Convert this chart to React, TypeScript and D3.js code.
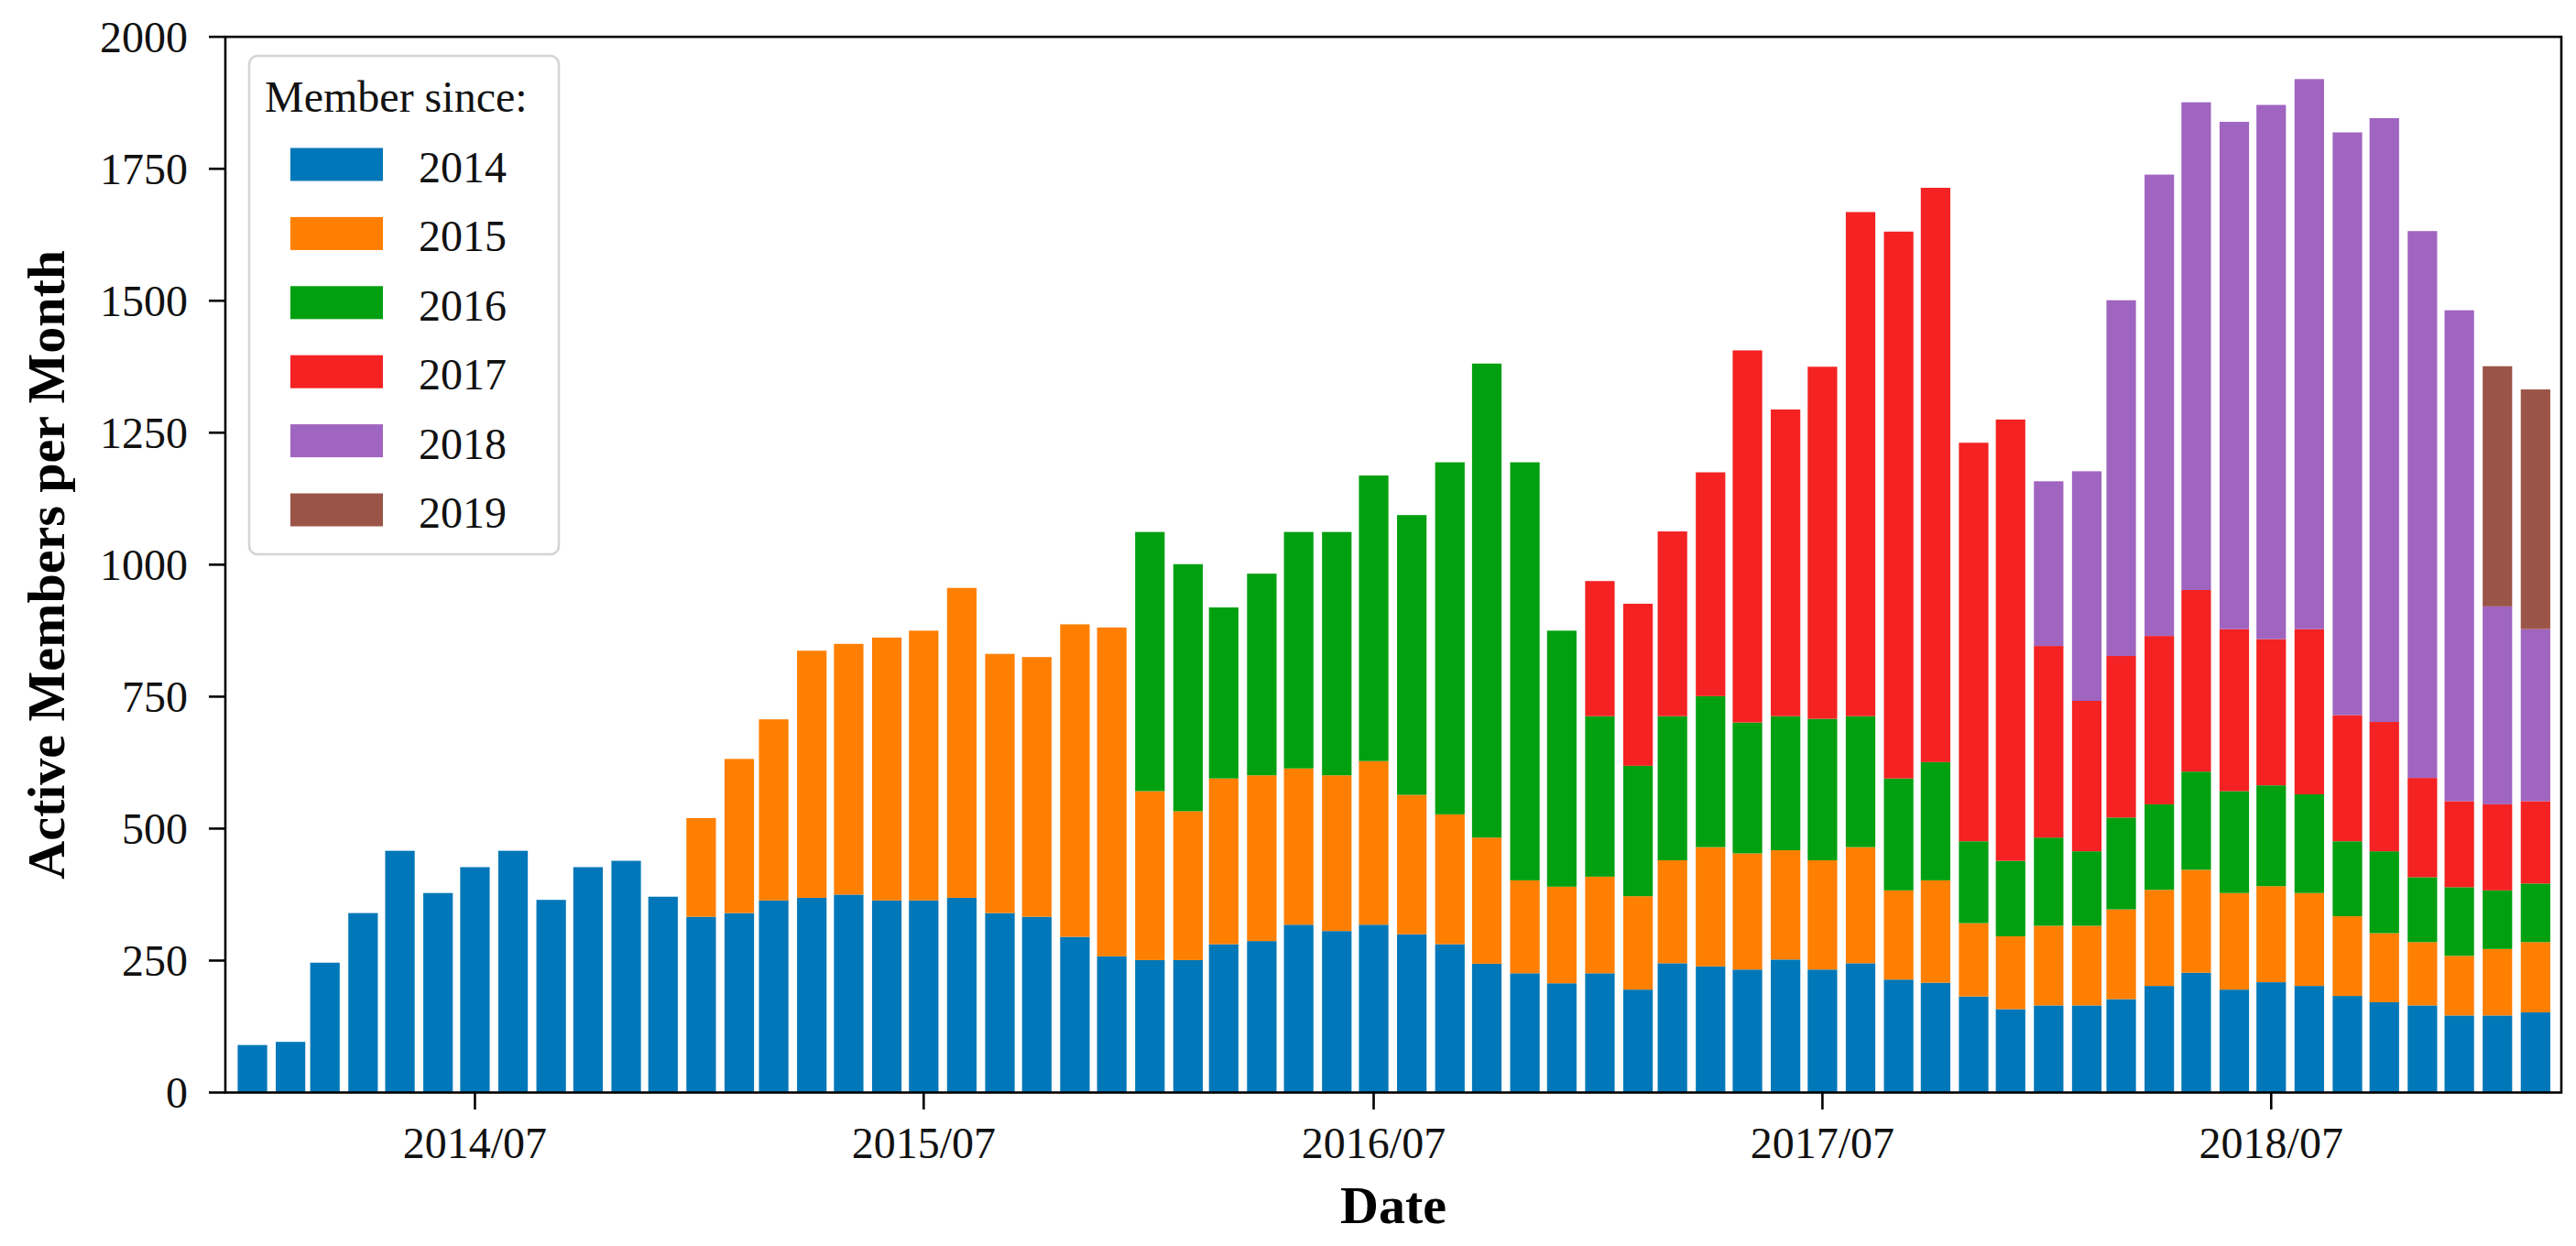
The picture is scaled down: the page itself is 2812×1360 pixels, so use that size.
import React from "react";
import * as d3 from "d3";

// Months shown (one stacked bar per month), 2014/01 .. 2019/02
const months: Date[] = d3.timeMonth.range(new Date(2014, 0, 1), new Date(2019, 2, 1));

// Cohorts ("Member since") and their colours
const cohorts = ["2014", "2015", "2016", "2017", "2018", "2019"];
const cohortColors = ["#0077b8", "#ff7f00", "#00a010", "#f42222", "#a065c0", "#9b5548"];

// Active members per month for each cohort, starting in January of the cohort year
const members2014 = [
  90, 96, 246, 340, 458, 378, 427, 458, 365, 427, 439, 371,
  333, 340, 364, 369, 375, 364, 364, 369, 340, 333, 295, 258,
  251, 251, 281, 287, 318, 306, 318, 300, 281, 244, 226, 207,
  226, 195, 245, 239, 233, 252, 233, 245, 214, 208, 182, 158,
  165, 165, 177, 202, 227, 195, 209, 202, 183, 171, 165, 146,
  146, 152,
];
const members2015 = [
  187, 292, 343, 468, 475, 498, 511, 587, 491, 492, 592, 623,
  320, 282, 314, 314, 296, 295, 310, 264, 246, 239, 176, 183,
  183, 177, 195, 226, 220, 207, 207, 220, 169, 194, 139, 138,
  151, 151, 170, 182, 195, 183, 182, 176, 151, 131, 120, 113,
  126, 133,
];
const members2016 = [
  491, 468, 324, 382, 448, 461, 541, 530, 667, 898, 792, 485,
  304, 247, 273, 286, 248, 254, 268, 248, 212, 224, 155, 143,
  167, 141, 174, 162, 186, 193, 191, 187, 142, 155, 123, 130,
  111, 111,
];
const members2017 = [
  256, 307, 350, 424, 705, 581, 667, 955, 1036, 1088, 755, 836,
  363, 285, 306, 319, 344, 307, 277, 313, 239, 245, 188, 163,
  163, 156,
];
const members2018 = [312, 435, 674, 874, 924, 961, 1012, 1042, 1104, 1144, 1036, 930, 375, 326];
const members2019 = [455, 454];

const cohortSeries = [members2014, members2015, members2016, members2017, members2018, members2019];

// Axis ticks
const yTicks = [0, 250, 500, 750, 1000, 1250, 1500, 1750, 2000];
const xTicks = [2014, 2015, 2016, 2017, 2018].map((y) => new Date(y, 6, 1));
const xTickFormat = d3.timeFormat("%Y/%m");

const W = 2812;
const H = 1360;
const FONT = "'Liberation Serif', 'Times New Roman', Times, serif";

export default function App() {
  const left = 246;
  const right = 2796;
  const top = 40.2;
  const bottom = 1192.5;

  const x = d3
    .scaleTime()
    .domain([d3.timeDay.offset(new Date(2014, 0, 1), -22), d3.timeDay.offset(new Date(2019, 1, 1), 21)])
    .range([left, right]);
  const y = d3.scaleLinear().domain([0, 2000]).range([bottom, top]);

  // Build table: one row per month with value per cohort
  const table = months.map((m, i) => {
    const row: Record<string, number> = {};
    cohorts.forEach((c, ci) => {
      const startIdx = (+c - 2014) * 12;
      const v = cohortSeries[ci][i - startIdx];
      row[c] = i >= startIdx && v !== undefined ? v : 0;
    });
    return row;
  });
  const stacked = d3.stack<Record<string, number>>().keys(cohorts)(table);

  const halfWidth = (d: Date) => [x(d3.timeDay.offset(d, -12)), x(d3.timeDay.offset(d, 12))];

  return (
    <svg
      width={W}
      height={H}
      style={{ position: "absolute", left: 0, top: 0, background: "#fff" }}
      fontFamily={FONT}
    >
      <rect x={0} y={0} width={W} height={H} fill="#fff" />
      {/* bars */}
      {stacked.map((layer, li) => (
        <g key={cohorts[li]} fill={cohortColors[li]}>
          {layer.map((seg, i) => {
            if (seg[1] - seg[0] <= 0) return null;
            const [x0, x1] = halfWidth(months[i]);
            return (
              <rect
                key={i}
                x={x0}
                width={x1 - x0}
                y={y(seg[1])}
                height={y(seg[0]) - y(seg[1])}
              />
            );
          })}
        </g>
      ))}

      {/* spines */}
      <rect x={left} y={top} width={right - left} height={bottom - top} fill="none" stroke="#000" strokeWidth={2.6} />

      {/* y ticks */}
      {yTicks.map((t) => (
        <g key={t}>
          <line x1={left - 18} x2={left} y1={y(t)} y2={y(t)} stroke="#000" strokeWidth={2.6} />
          <text x={205} y={y(t) + 16.5} textAnchor="end" fontSize={48} fill="#111">
            {t}
          </text>
        </g>
      ))}

      {/* x ticks */}
      {xTicks.map((t) => (
        <g key={+t}>
          <line x1={x(t)} x2={x(t)} y1={bottom} y2={bottom + 18.5} stroke="#000" strokeWidth={2.6} />
          <text x={x(t)} y={1264} textAnchor="middle" fontSize={48} fill="#111">
            {xTickFormat(t)}
          </text>
        </g>
      ))}

      {/* axis titles */}
      <text x={(left + right) / 2} y={1335} textAnchor="middle" fontSize={58} fontWeight="bold" fill="#000">
        Date
      </text>
      <text
        transform={`translate(70, ${(top + bottom) / 2}) rotate(-90)`}
        textAnchor="middle"
        fontSize={58}
        fontWeight="bold"
        fill="#000"
      >
        Active Members per Month
      </text>

      {/* legend */}
      <g>
        <rect x={272} y={61} width={338} height={544} rx={9} fill="#fff" fillOpacity={0.85} stroke="#d4d4d4" strokeWidth={2.6} />
        <text x={289} y={121.7} fontSize={48} fill="#111">
          Member since:
        </text>
        {cohorts.map((c, i) => (
          <g key={c}>
            <rect x={317} y={161.5 + i * 75.4} width={101} height={36} fill={cohortColors[i]} />
            <text x={457} y={161.5 + i * 75.4 + 37.5} fontSize={48} fill="#111">
              {c}
            </text>
          </g>
        ))}
      </g>
    </svg>
  );
}
